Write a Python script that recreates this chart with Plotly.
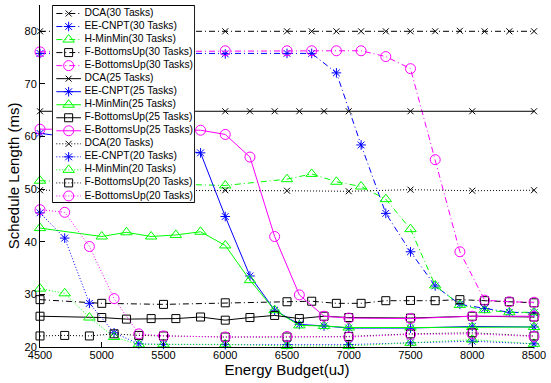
import plotly.graph_objects as go

# ---------------- data ----------------
x30 = [4500, 6000, 6500, 6700, 6900, 7100, 7300, 7500, 7700, 7900, 8100, 8300, 8500]
x30_fb = [4500, 5000, 5500, 6000, 6500, 6700, 6900, 7100, 7300, 7500, 7700, 7900, 8100, 8300, 8500]
dca30 = [80.0, 80.0, 80.0, 80.0, 80.0, 80.0, 80.0, 80.0, 80.0, 80.1, 80.0, 80.0, 80.0]
ee30 = [75.8, 75.7, 75.8, 75.8, 72.1, 58.4, 45.4, 38.1, 31.6, 28.1, 27.3, 26.6, 26.5]
hm30 = [51.6, 50.7, 51.9, 52.9, 51.4, 50.5, 48.1, 42.4, 31.7, 28.0, 27.0, 26.6, 26.6]
fb30 = [29.0, 28.3, 28.1, 28.4, 28.6, 28.7, 28.3, 28.3, 28.8, 28.85, 28.8, 29.0, 28.8, 28.6, 28.4]
eb30 = [76.1, 76.3, 76.3, 76.3, 76.3, 76.3, 75.2, 72.9, 55.6, 38.1, 28.9, 28.6, 28.5]

x25_dca = [4500, 6000, 6200, 6400, 6600, 6800, 7000, 7500, 8000, 8500]
x25_e = [4500, 5800, 6000, 6200, 6400, 6600, 6800, 7000, 7500, 8000, 8500]
x25_hf = [4500, 5000, 5200, 5400, 5600, 5800, 6000, 6200, 6400, 6600, 6800, 7000, 7500, 8000, 8500]
dca25 = [64.8, 64.8, 64.8, 64.8, 64.8, 64.8, 64.8, 64.8, 64.8, 64.8]
ee25 = [60.6, 56.9, 44.8, 33.5, 27.0, 24.3, 24.0, 23.6, 23.6, 23.9, 23.8]
hm25 = [42.6, 41.0, 41.8, 41.0, 41.3, 41.9, 39.3, 32.7, 27.0, 24.1, 24.0, 23.7, 23.7, 23.8, 23.8]
fb25 = [25.85, 25.6, 25.3, 25.4, 25.4, 25.7, 25.1, 25.6, 26.0, 25.4, 25.85, 25.6, 25.5, 25.85, 25.7]
eb25 = [61.4, 61.2, 60.4, 56.1, 41.0, 29.9, 25.85, 25.5, 25.4, 25.85, 25.85]

x20 = [4500, 4700, 4900, 5100, 5300, 5500, 6000, 6500, 7000, 7500, 8000, 8500]
x20_dca = [4500, 6000, 6500, 7000, 7500, 8000, 8500]
dca20 = [49.8, 49.8, 49.7, 49.6, 49.9, 49.7, 49.8]
ee20 = [45.5, 40.7, 28.3, 22.7, 20.6, 20.5, 20.45, 20.45, 20.45, 20.8, 21.1, 20.6]
hm20 = [31.1, 30.2, 25.6, 21.9, 20.5, 20.5, 20.5, 20.2, 20.2, 20.8, 21.4, 20.6]
fb20 = [22.1, 22.2, 22.1, 22.5, 22.2, 22.1, 21.9, 21.9, 22.0, 22.5, 22.7, 22.1]
eb20 = [46.1, 45.6, 39.1, 29.2, 22.5, 22.1, 21.9, 22.0, 21.9, 22.4, 22.5, 22.0]

x_ticks = [4500, 5000, 5500, 6000, 6500, 7000, 7500, 8000, 8500]
y_ticks = [20, 30, 40, 50, 60, 70, 80]

# ---------------- styles ----------------
BLACK, BLUE, GREEN, MAG = "#000000", "#0000ff", "#00ff00", "#ff00ff"
MK = {
    "DCA": ("x-thin-open", 6, BLACK),
    "EE-CNPT": ("asterisk-open", 8, BLUE),
    "H-MinMin": ("triangle-up-open", 10, GREEN),
    "F-BottomsUp": ("square-open", 8, BLACK),
    "E-BottomsUp": ("circle-open", 10, MAG),
}
DASH = {"30": "6px,3px,1px,3px", "25": "solid", "20": "1px,2px"}

series = [
    ("DCA", "30", x30, dca30),
    ("EE-CNPT", "30", x30, ee30),
    ("H-MinMin", "30", x30, hm30),
    ("F-BottomsUp", "30", x30_fb, fb30),
    ("E-BottomsUp", "30", x30, eb30),
    ("DCA", "25", x25_dca, dca25),
    ("EE-CNPT", "25", x25_e, ee25),
    ("H-MinMin", "25", x25_hf, hm25),
    ("F-BottomsUp", "25", x25_hf, fb25),
    ("E-BottomsUp", "25", x25_e, eb25),
    ("DCA", "20", x20_dca, dca20),
    ("EE-CNPT", "20", x20, ee20),
    ("H-MinMin", "20", x20, hm20),
    ("F-BottomsUp", "20", x20, fb20),
    ("E-BottomsUp", "20", x20, eb20),
]

fig = go.Figure()
for alg, n, xs, ys in series:
    sym, sz, col = MK[alg]
    fig.add_trace(go.Scatter(
        x=xs, y=ys, name=f"{alg}({n} Tasks)", mode="lines+markers",
        line=dict(color=col, width=1, dash=DASH[n]),
        marker=dict(symbol=sym, size=sz, color=col, line=dict(width=1, color=col)),
        cliponaxis=False, showlegend=False,
    ))

# ---------------- hand-drawn legend box (compact rows) ----------------
W, H = 145, 198
fig.add_trace(go.Scatter(
    x=[0.5, W - 0.5, W - 0.5, 0.5, 0.5], y=[0.5, 0.5, H - 0.5, H - 0.5, 0.5],
    xaxis="x2", yaxis="y2", mode="lines", fill="toself", fillcolor="white",
    line=dict(color="black", width=1), showlegend=False, hoverinfo="skip",
))
row0, step = 8.5, 13.03
names, centers = [], []
for i, (alg, n, xs, ys) in enumerate(series):
    sym, sz, col = MK[alg]
    c = row0 + step * i
    names.append(f"{alg}({n} Tasks)")
    centers.append(c)
    fig.add_trace(go.Scatter(
        x=[4.5, 17, 29.5], y=[c, c, c], xaxis="x2", yaxis="y2", mode="lines+markers",
        line=dict(color=col, width=1, dash=DASH[n]),
        marker=dict(symbol=sym, size=sz, color=col, line=dict(width=1, color=col),
                    opacity=[0, 1, 0]),
        cliponaxis=False, showlegend=False, hoverinfo="skip",
    ))
fig.add_trace(go.Scatter(
    x=[33] * len(names), y=centers, text=names, mode="text", textposition="middle right",
    textfont=dict(family="Liberation Sans, Arial, sans-serif", size=10.3, color="black"),
    xaxis="x2", yaxis="y2", cliponaxis=False, showlegend=False, hoverinfo="skip",
))

axis_font = dict(family="Liberation Sans, Arial, sans-serif", size=11, color="black")
fig.update_layout(
    width=551, height=383,
    margin=dict(l=40, r=11, t=5, b=36),
    paper_bgcolor="white", plot_bgcolor="white",
    font=dict(family="Liberation Sans, Arial, sans-serif", color="black"),
    showlegend=False,
    xaxis=dict(
        range=[4500, 8500], tickvals=x_ticks, ticktext=[str(v) for v in x_ticks],
        ticks="inside", ticklen=5, tickcolor="black", tickfont=axis_font,
        ticklabeloverflow="allow", ticklabelstandoff=-2,
        showline=True, linecolor="black", linewidth=1, showgrid=False, zeroline=False,
        title=dict(text="Energy Budget(uJ)", font=dict(size=15), standoff=4),
    ),
    yaxis=dict(
        range=[20, 85], tickvals=y_ticks, ticktext=[str(v) for v in y_ticks],
        ticks="inside", ticklen=5, tickcolor="black", tickfont=axis_font,
        ticklabeloverflow="allow",
        showline=True, linecolor="black", linewidth=1, showgrid=False, zeroline=False,
        title=dict(text="Schedule Length (ms)", font=dict(size=15), standoff=1),
    ),
    xaxis2=dict(domain=[0.024, 0.314], range=[0, W], visible=False, fixedrange=True),
    yaxis2=dict(domain=[0.421, 1.0], range=[H, 0], visible=False, fixedrange=True),
)

fig.write_html("out.html", config={"displayModeBar": False},
               post_script="document.body.style.margin='0';")
